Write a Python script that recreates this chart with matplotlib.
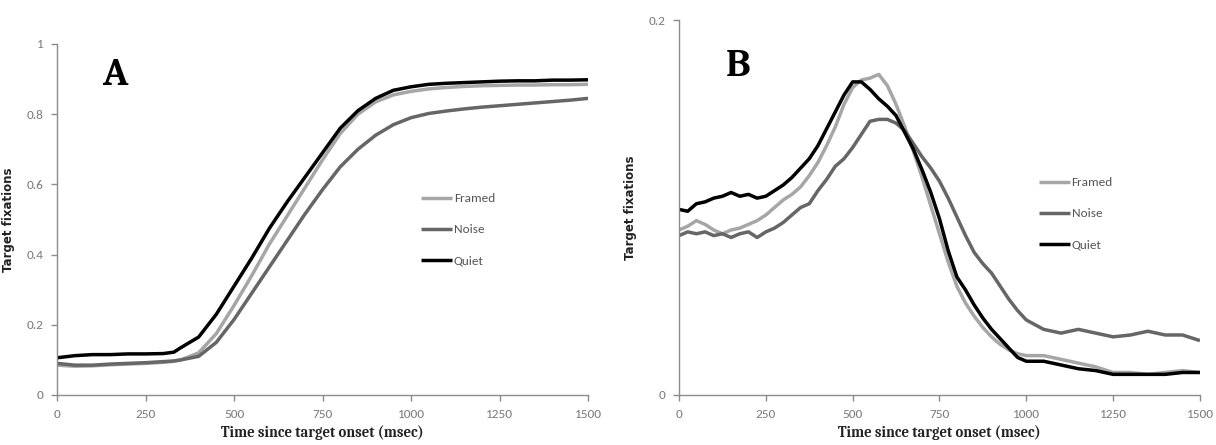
import matplotlib
matplotlib.use("Agg")
import matplotlib.pyplot as plt

plt.rcParams['font.family'] = ['Carlito', 'DejaVu Sans']

# panel A: cumulative target fixations
time_a = [0, 50, 100, 150, 200, 250, 300, 330, 350, 400, 450, 500, 550, 600,
          650, 700, 750, 800, 850, 900, 950, 1000, 1050, 1100, 1150, 1200,
          1250, 1300, 1350, 1400, 1450, 1500]
framed_a = [0.085, 0.082, 0.083, 0.086, 0.088, 0.090, 0.093, 0.096, 0.100,
            0.120, 0.175, 0.255, 0.340, 0.430, 0.510, 0.590, 0.670, 0.745,
            0.800, 0.835, 0.855, 0.865, 0.872, 0.876, 0.879, 0.881, 0.882,
            0.883, 0.883, 0.884, 0.884, 0.885]
noise_a = [0.090, 0.085, 0.085, 0.088, 0.090, 0.092, 0.095, 0.097, 0.100,
           0.110, 0.150, 0.215, 0.290, 0.365, 0.440, 0.515, 0.585, 0.650,
           0.700, 0.740, 0.770, 0.790, 0.802, 0.809, 0.815, 0.820, 0.824,
           0.828, 0.832, 0.836, 0.840, 0.845]
quiet_a = [0.106, 0.112, 0.115, 0.115, 0.117, 0.117, 0.118, 0.122, 0.135,
           0.165, 0.230, 0.310, 0.390, 0.475, 0.550, 0.620, 0.690, 0.760,
           0.810, 0.845, 0.868, 0.878, 0.885, 0.888, 0.890, 0.892, 0.894,
           0.895, 0.895, 0.897, 0.897, 0.898]

# panel B: target fixations
time_b = [0, 25, 50, 75, 100, 125, 150, 175, 200, 225, 250, 275, 300, 325,
          350, 375, 400, 425, 450, 475, 500, 525, 550, 575, 600, 625, 650,
          675, 700, 725, 750, 775, 800, 825, 850, 875, 900, 925, 950, 975,
          1000, 1050, 1100, 1150, 1200, 1250, 1300, 1350, 1400, 1450, 1500]
framed_b = [0.088, 0.090, 0.093, 0.091, 0.088, 0.086, 0.088, 0.089, 0.091,
            0.093, 0.096, 0.100, 0.104, 0.107, 0.111, 0.117, 0.124, 0.133,
            0.143, 0.155, 0.164, 0.168, 0.169, 0.171, 0.165, 0.155, 0.143,
            0.130, 0.116, 0.101, 0.086, 0.071, 0.058, 0.049, 0.042, 0.036,
            0.031, 0.027, 0.024, 0.022, 0.021, 0.021, 0.019, 0.017, 0.015,
            0.012, 0.012, 0.011, 0.012, 0.013, 0.012]
noise_b = [0.085, 0.087, 0.086, 0.087, 0.085, 0.086, 0.084, 0.086, 0.087,
           0.084, 0.087, 0.089, 0.092, 0.096, 0.100, 0.102, 0.109, 0.115,
           0.122, 0.126, 0.132, 0.139, 0.146, 0.147, 0.147, 0.145, 0.141,
           0.134, 0.127, 0.121, 0.114, 0.105, 0.095, 0.085, 0.076, 0.070,
           0.065, 0.058, 0.051, 0.045, 0.040, 0.035, 0.033, 0.035, 0.033,
           0.031, 0.032, 0.034, 0.032, 0.032, 0.029]
quiet_b = [0.099, 0.098, 0.102, 0.103, 0.105, 0.106, 0.108, 0.106, 0.107,
           0.105, 0.106, 0.109, 0.112, 0.116, 0.121, 0.126, 0.133, 0.142,
           0.151, 0.160, 0.167, 0.167, 0.163, 0.158, 0.154, 0.149, 0.140,
           0.131, 0.120, 0.108, 0.094, 0.077, 0.063, 0.056, 0.048, 0.041,
           0.035, 0.030, 0.025, 0.020, 0.018, 0.018, 0.016, 0.014, 0.013,
           0.011, 0.011, 0.011, 0.011, 0.012, 0.012]

labels = ['Framed', 'Noise', 'Quiet']
colors = ['#a6a6a6', '#666666', '#000000']
x_ticks = [0, 250, 500, 750, 1000, 1250, 1500]

fig = plt.figure(figsize=(12.16, 4.45), dpi=100)
ax_a = fig.add_axes([0.0469, 0.1124, 0.4367, 0.7888])
ax_b = fig.add_axes([0.5584, 0.1124, 0.4284, 0.8426])


def style(ax, yticks, ylim, letter, letter_pos, leg_pos):
    ax.set_xlim(0, 1500)
    ax.set_ylim(*ylim)
    ax.set_xticks(x_ticks)
    ax.set_yticks(yticks)
    ax.set_yticklabels([f'{t:g}' for t in yticks])
    for side in ['top', 'right']:
        ax.spines[side].set_visible(False)
    for side in ['left', 'bottom']:
        ax.spines[side].set_color('#8c8c8c')
        ax.spines[side].set_linewidth(1.0)
    ax.tick_params(direction='out', length=4, width=1.0, color='#8c8c8c',
                   labelcolor='#7a7a7a', labelsize=9.5, pad=6)
    ax.set_xlabel('Time since target onset (msec)', fontsize=10.5,
                  fontweight='bold', color='#222222', labelpad=4,
                  family=['Caladea', 'DejaVu Sans'])
    ax.set_ylabel('Target fixations', fontsize=8.5, fontweight='bold',
                  color='#222222', family='DejaVu Sans', labelpad=8)
    ax.text(letter_pos[0], letter_pos[1], letter, transform=ax.transAxes,
            fontsize=28, fontweight='bold',
            family=['Caladea', 'DejaVu Serif'], va='center', ha='left')
    leg = ax.legend(loc='upper left', bbox_to_anchor=leg_pos, frameon=False,
                    handlelength=2.4, handletextpad=0.1, labelspacing=1.5,
                    fontsize=9.5, borderaxespad=0)
    for txt in leg.get_texts():
        txt.set_color('#555555')


for ax, t, series in [(ax_a, time_a, [framed_a, noise_a, quiet_a]),
                      (ax_b, time_b, [framed_b, noise_b, quiet_b])]:
    for y, lab, c in zip(series, labels, colors):
        ax.plot(t, y, color=c, lw=2.5, label=lab, solid_capstyle='butt')

style(ax_a, [0, 0.2, 0.4, 0.6, 0.8, 1], (0, 1), 'A', (0.085, 0.91),
      (0.675, 0.59))
style(ax_b, [0, 0.2], (0, 0.2), 'B', (0.09, 0.875), (0.68, 0.595))

fig.savefig('out.png', dpi=100)
